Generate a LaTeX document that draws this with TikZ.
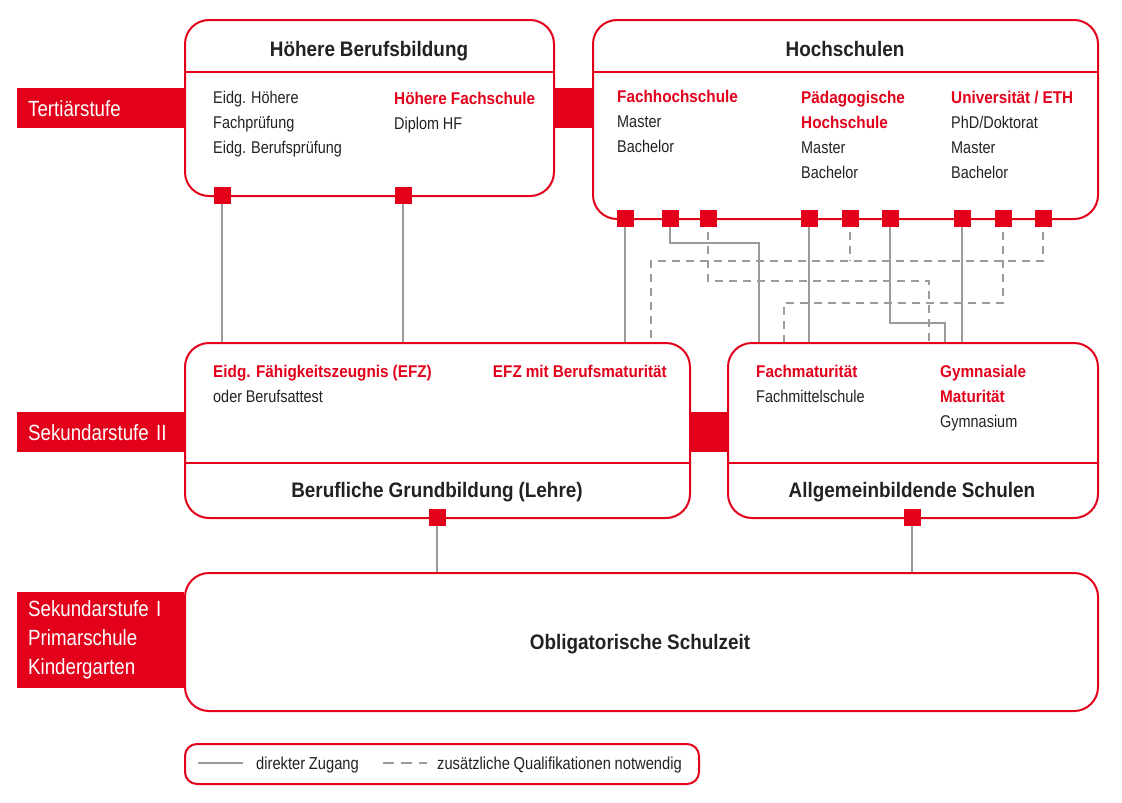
\documentclass[tikz,border=0pt]{standalone}
\usepackage{fontspec}
\setmainfont{Liberation Sans}[FakeStretch=0.85, WordSpace=0.92]
\newfontfamily\bd{Liberation Sans}[FakeStretch=0.9, WordSpace=0.95]
\usetikzlibrary{backgrounds}
\definecolor{chred}{HTML}{E2001A}
\definecolor{conngray}{HTML}{9B9B9B}
\definecolor{txtblack}{HTML}{222222}
\tikzset{
  box/.style={draw=chred, line width=2pt, rounded corners=24pt, anchor=north west, inner sep=0pt},
  sqr/.style={fill=chred, minimum size=17pt, inner sep=0pt},
  conn/.style={draw=conngray, line width=2pt},
  dconn/.style={conn, dash pattern=on 8pt off 6pt},
  lvl/.style={fill=chred, text=white, anchor=north west, inner sep=0pt, inner xsep=11pt, align=left,
    font=\fontsize{22}{29}\selectfont, text width=145pt},
  body/.style={anchor=base west, inner sep=0pt, text=txtblack, font=\fontsize{17}{20}\selectfont},
  rtitle/.style={anchor=base west, inner sep=0pt, text=chred, font=\bd\bfseries\fontsize{17}{20}\selectfont},
  head/.style={anchor=base, inner sep=0pt, text=txtblack, font=\bd\bfseries\fontsize{21}{24}\selectfont},
  divline/.style={draw=chred, line width=2pt},
  legtxt/.style={anchor=base west, inner sep=0pt, text=txtblack, font=\fontsize{17.3}{20}\selectfont},
}
\begin{document}
\begin{tikzpicture}[x=1pt, y=-1pt]
\useasboundingbox (0,0) rectangle (1122,803);

% level labels
\node[lvl, minimum height=40pt] (lvT) at (17,88) {Tertiärstufe};
\node[lvl, minimum height=40pt] (lvS2) at (17,412) {Sekundarstufe II};
\node[lvl, minimum height=96pt] (lvS1) at (17,592) {Sekundarstufe I\\Primarschule\\Kindergarten};

% joining bars
\fill[chred] (553,88) rectangle (592,128);
\fill[chred] (689,412) rectangle (727,452);

% boxes
\node[box, minimum width=369pt, minimum height=176pt] (hb) at (184,19) {};
\node[box, minimum width=505pt, minimum height=199pt] (hs) at (592,19) {};
\node[box, minimum width=505pt, minimum height=175pt] (efz) at (184,342) {};
\node[box, minimum width=370pt, minimum height=175pt] (allg) at (727,342) {};
\node[box, minimum width=913pt, minimum height=138pt] (obl) at (184,572) {};
\node[box, rounded corners=12pt, minimum width=514pt, minimum height=40pt] (leg) at (184,743) {};

% dividers
\draw[divline] (hb.west |- 0,72) -- (hb.east |- 0,72);
\draw[divline] (hs.west |- 0,72) -- (hs.east |- 0,72);
\draw[divline] (efz.west |- 0,463) -- (efz.east |- 0,463);
\draw[divline] (allg.west |- 0,463) -- (allg.east |- 0,463);

% headings
\node[head] (hHB) at (369,56) {Höhere Berufsbildung};
\node[head] (hHS) at (845,56) {Hochschulen};
\node[head] (hBG) at (437,497) {Berufliche Grundbildung (Lehre)};
\node[head] (hAS) at (912,497) {Allgemeinbildende Schulen};
\node[head] (hOS) at (640,649) {Obligatorische Schulzeit};

% Höhere Berufsbildung content
\node[body] (t1) at (213,103) {Eidg. Höhere};
\node[body] (t2) at (213,128) {Fachprüfung};
\node[body] (t3) at (213,153) {Eidg. Berufsprüfung};
\node[rtitle] (t4) at (394,104) {Höhere Fachschule};
\node[body] (t5) at (394,129) {Diplom HF};

% Hochschulen content
\node[rtitle] (t6) at (617,102) {Fachhochschule};
\node[body] (t7) at (617,127) {Master};
\node[body] (t8) at (617,152) {Bachelor};
\node[rtitle] (t9) at (801,103) {Pädagogische};
\node[rtitle] (t10) at (801,128) {Hochschule};
\node[body] (t11) at (801,153) {Master};
\node[body] (t12) at (801,178) {Bachelor};
\node[rtitle] (t13) at (951,103) {Universität / ETH};
\node[body] (t14) at (951,128) {PhD/Doktorat};
\node[body] (t15) at (951,153) {Master};
\node[body] (t16) at (951,178) {Bachelor};

% Sekundarstufe II content
\node[rtitle] (t17) at (213,377) {Eidg. Fähigkeitszeugnis (EFZ)};
\node[body] (t18) at (213,402) {oder Berufsattest};
\node[rtitle, anchor=base east] (t19) at (667,377) {EFZ mit Berufsmaturität};
\node[rtitle] (t20) at (756,377) {Fachmaturität};
\node[body] (t21) at (756,402) {Fachmittelschule};
\node[rtitle] (t22) at (940,377) {Gymnasiale};
\node[rtitle] (t23) at (940,402) {Maturität};
\node[body] (t24) at (940,427) {Gymnasium};

% squares
\node[sqr] (sqA) at (222,195) {};
\node[sqr] (sqB) at (403,195) {};
\node[sqr] (s1) at (625,218) {};
\node[sqr] (s2) at (670,218) {};
\node[sqr] (s3) at (708,218) {};
\node[sqr] (s4) at (809,218) {};
\node[sqr] (s5) at (850,218) {};
\node[sqr] (s6) at (890,218) {};
\node[sqr] (s7) at (962,218) {};
\node[sqr] (s8) at (1003,218) {};
\node[sqr] (s9) at (1043,218) {};
\node[sqr] (sqC) at (437,517) {};
\node[sqr] (sqD) at (912,517) {};

% connectors
\begin{scope}[on background layer]
\draw[conn] (sqA.center) -- (sqA |- efz.north);
\draw[conn] (sqB.center) -- (sqB |- efz.north);
\draw[conn] (s1.center) -- (s1 |- efz.north);
\draw[conn] (s2.center) |- (759,243) -- (allg.north -| 759,0);
\draw[dconn] (s3.center) |- (929,281) -- (allg.north -| 929,0);
\draw[conn] (s4.center) -- (s4 |- allg.north);
\draw[dconn] (s9.center) |- (651,261) -- (efz.north -| 651,0);
\draw[dconn] (s5.center) -- (s5 |- 0,261);
\draw[conn] (s6.center) |- (945,323) -- (allg.north -| 945,0);
\draw[conn] (s7.center) -- (s7 |- allg.north);
\draw[dconn] (s8.center) |- (784,303) -- (allg.north -| 784,0);
\draw[conn] (sqC.center) -- (sqC |- obl.north);
\draw[conn] (sqD.center) -- (sqD |- obl.north);
\end{scope}

% legend
\coordinate (la1) at (198,763);
\coordinate (la2) at (243,763);
\coordinate (lb1) at (383,763);
\coordinate (lb2) at (427,763);
\draw[conn] (la1) -- (la2);
\draw[conn, dash pattern=on 11pt off 7pt] (lb1) -- (lb2);
\node[legtxt] (lt1) at (256,769) {direkter Zugang};
\node[legtxt] (lt2) at (437,769) {zusätzliche Qualifikationen notwendig};
\end{tikzpicture}
\end{document}
